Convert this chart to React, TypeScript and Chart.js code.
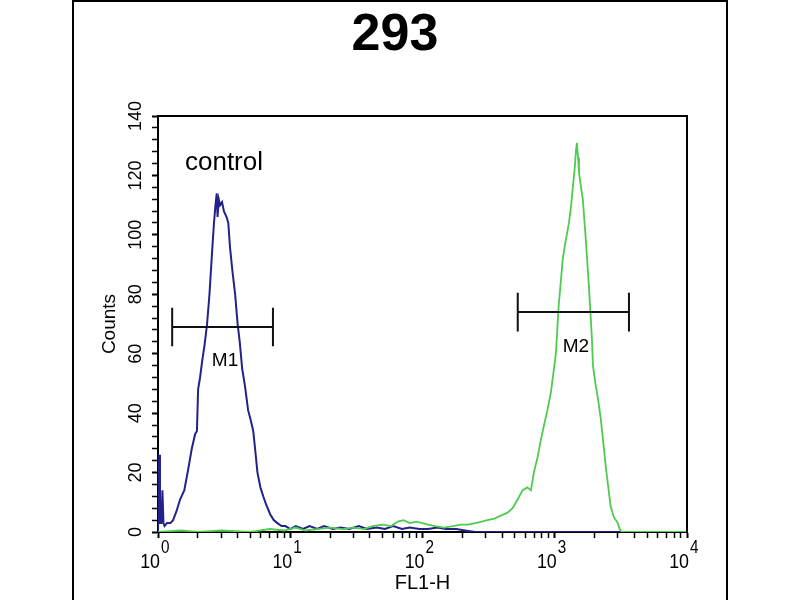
import { useEffect, useRef } from 'react'
import { Chart, registerables } from 'chart.js'

Chart.register(...registerables)

const FONT = '"Liberation Sans", Arial, Helvetica, sans-serif'

const chartTitle = '293'
const controlLabel = 'control'

// control histogram (blue), FL1-H channel value -> counts
const controlX = [
  1.0, 1.02, 1.035, 1.06, 1.08, 1.1, 1.12, 1.17, 1.24, 1.3,
  1.38, 1.47, 1.58, 1.69, 1.8, 1.91, 1.97, 2.01, 2.08, 2.15,
  2.25, 2.35, 2.45, 2.57, 2.65, 2.72, 2.78, 2.82, 2.88, 2.95,
  3.05, 3.15, 3.3, 3.4, 3.5, 3.65, 3.83, 4.0, 4.15, 4.33,
  4.55, 4.8, 5.0, 5.25, 5.45, 5.65, 5.95, 6.25, 6.6, 7.05,
  7.5, 8.0, 8.6, 9.2, 10, 11, 12.5, 14, 16, 18,
  21, 24, 28, 33, 38, 45, 52, 60, 70, 80,
  95, 110, 130, 150, 180, 210, 250, 400, 1000, 10000,
]
const controlCounts = [
  0, 26, 3, 3, 14, 3, 2, 3, 3, 4,
  7, 11, 14, 21, 28, 33, 34, 48, 52, 57,
  63, 70, 80, 95, 104, 110, 114, 106, 112, 110,
  111, 108, 106, 104, 96, 88, 80, 70, 64, 55,
  49, 41, 38, 34, 27, 20, 15, 12, 9, 6,
  4, 3, 2, 2, 1, 2, 1, 2, 1, 2,
  1, 1.5, 1, 2, 1, 1.5, 1, 2, 1, 1.5,
  1, 1, 1.5, 1, 1, 0.5, 0, 0, 0, 0,
]

// 293 cells histogram (green)
const sampleX = [
  1, 1.5, 2, 3, 5, 7, 9, 11, 13, 16,
  20, 25, 30, 36, 42, 50, 58, 65, 72, 80,
  90, 100, 110, 125, 145, 170, 195, 220, 250, 280,
  310, 350, 390, 440, 480, 525, 570, 620, 660, 695,
  740, 785, 830, 880, 935, 980, 1020, 1070, 1110, 1150,
  1210, 1280, 1330, 1370, 1420, 1445, 1470, 1500, 1525, 1580,
  1630, 1720, 1810, 1860, 1910, 1945, 2030, 2120, 2230, 2330,
  2430, 2540, 2650, 2800, 3000, 3100, 3200, 5000, 10000,
]
const sampleCounts = [
  0, 0.5, 0, 0.5, 0, 1, 0.5, 1.5, 0.5, 1,
  1.5, 1, 1.5, 1, 2, 2.5, 2, 3.5, 4, 3,
  3.5, 3, 2.5, 2, 1.5, 2, 2.5, 2.5, 3, 3.5,
  4, 4.5, 5.5, 6.5, 8, 11, 14, 15, 14, 20,
  25, 31, 36, 41, 47, 54, 60, 76, 84, 92,
  98, 104, 110, 116, 123, 128, 131, 126, 121, 116,
  112, 98, 83, 74, 65, 56, 50, 45, 38, 30,
  22, 15, 8.5, 5, 3, 1, 0, 0, 0,
]

// marker gates
const gateNames = ['M1', 'M2']
const gateFrom = [1.28, 525]
const gateTo = [7.4, 3640]
const gateLevel = [69, 74]
const gateCap = 6.5

// axes
const xDecades = [1, 10, 100, 1000, 10000]
const xMinorSteps = [2, 3, 4, 5, 6, 7, 8, 9]
const yLabels = [0, 20, 40, 60, 80, 100, 120, 140]

const xTickValues = xDecades.flatMap((d, i) =>
  i < xDecades.length - 1 ? [d, ...xMinorSteps.map(m => m * d)] : [d]
)

const decorations = {
  id: 'decorations',
  beforeDraw(chart: Chart) {
    const { ctx, height } = chart
    ctx.save()
    ctx.fillStyle = '#fff'
    ctx.fillRect(0, 0, chart.width, height)
    // outer figure frame
    ctx.strokeStyle = '#000'
    ctx.lineWidth = 2
    ctx.beginPath()
    ctx.moveTo(73, height)
    ctx.lineTo(73, 1)
    ctx.lineTo(727, 1)
    ctx.lineTo(727, height)
    ctx.stroke()
    ctx.restore()
  },
  afterDraw(chart: Chart) {
    const { ctx, chartArea } = chart
    const x = chart.scales.x
    const y = chart.scales.y
    ctx.save()

    // top and right edges of plot box
    ctx.strokeStyle = '#000'
    ctx.lineWidth = 2
    ctx.beginPath()
    ctx.moveTo(chartArea.left, chartArea.top)
    ctx.lineTo(chartArea.right, chartArea.top)
    ctx.lineTo(chartArea.right, chartArea.bottom)
    ctx.stroke()

    ctx.fillStyle = '#000'
    ctx.textBaseline = 'alphabetic'

    // title
    ctx.font = `bold 52px ${FONT}`
    ctx.textAlign = 'center'
    ctx.fillText(chartTitle, 395, 50)

    // x tick labels 10^n
    xDecades.forEach(v => {
      const px = x.getPixelForValue(v)
      const exp = Math.round(Math.log10(v))
      ctx.save()
      ctx.translate(px + 2, chartArea.bottom + 36)
      ctx.scale(0.85, 1)
      ctx.font = `21px ${FONT}`
      ctx.textAlign = 'right'
      ctx.fillText('10', 0, 0)
      ctx.restore()
      ctx.save()
      ctx.translate(px + 3, chartArea.bottom + 21)
      ctx.scale(0.85, 1)
      ctx.font = `18px ${FONT}`
      ctx.textAlign = 'left'
      ctx.fillText(String(exp), 0, 0)
      ctx.restore()
    })

    // y tick labels, rotated
    ctx.font = `18px ${FONT}`
    ctx.textAlign = 'center'
    yLabels.forEach(v => {
      const py = y.getPixelForValue(v)
      ctx.save()
      ctx.translate(chartArea.left - 17, py)
      ctx.rotate(-Math.PI / 2)
      ctx.fillText(String(v), 0, 0)
      ctx.restore()
    })

    // gate names
    ctx.font = `19px ${FONT}`
    gateNames.forEach((name, i) => {
      const px = (x.getPixelForValue(gateFrom[i]) + x.getPixelForValue(gateTo[i])) / 2 + 2.5
      const py = y.getPixelForValue(gateLevel[i]) + 39.5
      ctx.fillText(name, px, py)
    })

    // control label
    ctx.font = `26px ${FONT}`
    ctx.fillText(controlLabel, chartArea.left + 66, chartArea.top + 54)

    ctx.restore()
  },
}

export default function App() {
  const canvasRef = useRef<HTMLCanvasElement>(null)

  useEffect(() => {
    if (!canvasRef.current) return
    const ctx = canvasRef.current.getContext('2d')
    if (!ctx) return

    const gateSets = gateNames.map((name, i) => ({
      label: name,
      data: [
        { x: gateFrom[i], y: gateLevel[i] + gateCap },
        { x: gateFrom[i], y: gateLevel[i] - gateCap },
        { x: gateFrom[i], y: gateLevel[i] },
        { x: gateTo[i], y: gateLevel[i] },
        { x: gateTo[i], y: gateLevel[i] + gateCap },
        { x: gateTo[i], y: gateLevel[i] - gateCap },
      ],
      borderColor: '#111',
      borderWidth: 2,
      order: 0,
    }))

    const chart = new Chart(ctx, {
      type: 'line',
      data: {
        datasets: [
          ...gateSets,
          {
            label: '293',
            data: sampleX.map((v, i) => ({ x: v, y: sampleCounts[i] })),
            borderColor: '#4fcb4f',
            borderWidth: 1.8,
            order: 1,
          },
          {
            label: 'control',
            data: controlX.map((v, i) => ({ x: v, y: controlCounts[i] })),
            borderColor: '#22228a',
            borderWidth: 2,
            order: 2,
          },
        ],
      },
      options: {
        responsive: false,
        animation: false,
        layout: { padding: { top: 116, right: 113, left: 0, bottom: 0 } },
        elements: { point: { radius: 0 }, line: { tension: 0 } },
        plugins: {
          legend: { display: false },
          tooltip: { enabled: false },
          title: { display: false },
        },
        scales: {
          x: {
            type: 'logarithmic',
            min: 1,
            max: 10000,
            position: 'bottom',
            afterFit: (s: any) => { s.height = 68 },
            afterBuildTicks: (s: any) => {
              s.ticks = xTickValues.map(v => ({ value: v, major: xDecades.includes(v) }))
            },
            ticks: { display: false },
            grid: {
              drawOnChartArea: false,
              tickLength: 6,
              tickColor: '#000',
              tickWidth: (c: any) => (c.tick && xDecades.includes(c.tick.value) ? 2 : 1.5),
            },
            border: { display: true, color: '#000', width: 2 },
            title: {
              display: true,
              text: 'FL1-H',
              color: '#000',
              font: { family: FONT, size: 20 },
              padding: { top: 0, bottom: 5 },
            },
          },
          y: {
            type: 'linear',
            min: 0,
            max: 140,
            afterFit: (s: any) => { s.width = 158 },
            ticks: { display: false, stepSize: 4 },
            grid: {
              drawOnChartArea: false,
              tickLength: 6,
              tickColor: '#000',
              tickWidth: (c: any) => (c.tick && c.tick.value % 20 === 0 ? 2 : 1.5),
            },
            border: { display: true, color: '#000', width: 2 },
            title: {
              display: true,
              text: 'Counts',
              color: '#000',
              font: { family: FONT, size: 19 },
              padding: { top: 98, bottom: 0 },
            },
          },
        },
      },
      plugins: [decorations],
    })

    return () => {
      chart.destroy()
    }
  }, [])

  return (
    <div style={{ position: 'absolute', left: 0, top: 0, width: 800, height: 600, background: '#fff' }}>
      <canvas ref={canvasRef} width={800} height={600} style={{ display: 'block' }} />
    </div>
  )
}
